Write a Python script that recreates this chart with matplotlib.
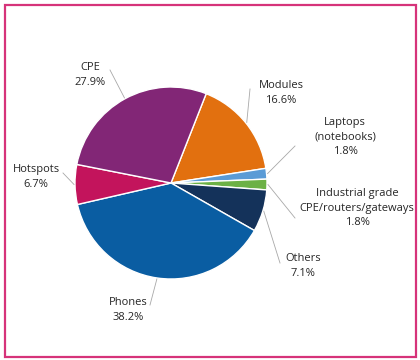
import numpy as np
import matplotlib.pyplot as plt
from matplotlib.patches import Rectangle

plt.rcParams['font.family'] = ['Open Sans', 'DejaVu Sans']

# slices, clockwise from the CPE/Modules boundary
LABELS = ['Modules', 'Laptops\n(notebooks)', 'Industrial grade\nCPE/routers/gateways',
          'Others', 'Phones', 'Hotspots', 'CPE']
SHARES = [16.6, 1.8, 1.8, 7.1, 38.2, 6.7, 27.9]
COLORS = ['#E2700F', '#5A9BD6', '#6CB146', '#14325A', '#0A5DA2', '#C3145C', '#822676']

# label anchor (pixel coords, y from top) and where the leader meets the text
TEXT_POS = [(281, 93), (345, 137), (357, 208), (303, 266), (128, 310), (36, 177), (90, 75)]
LEAD_END = [(250, 89), (295, 146), (295, 218), (280, 263), (150, 305), (63, 173), (110, 70)]

W, H = 420, 360
CX, CY, R = 171, 183, 96


def main():
    fig = plt.figure(figsize=(W / 100, H / 100), dpi=100)
    ax = fig.add_axes([0, 0, 1, 1])
    ax.set_xlim(0, W)
    ax.set_ylim(0, H)
    ax.set_aspect('equal')
    ax.axis('off')

    wedges, _ = ax.pie(SHARES, colors=COLORS, startangle=68.5, counterclock=False,
                       center=(CX, H - CY), radius=R,
                       wedgeprops={'edgecolor': 'white', 'linewidth': 1.0})
    ax.set_xlim(0, W)
    ax.set_ylim(0, H)

    for w, lab, share, tp, le in zip(wedges, LABELS, SHARES, TEXT_POS, LEAD_END):
        ang = np.deg2rad((w.theta1 + w.theta2) / 2)
        sx = CX + (R + 1) * np.cos(ang)
        sy = (H - CY) + (R + 1) * np.sin(ang)
        ax.plot([sx, le[0]], [sy, H - le[1]], color='#a8a8a8', linewidth=0.6)
        ax.text(tp[0], H - tp[1], '%s\n%.1f%%' % (lab, share), ha='center', va='center',
                fontsize=8, color='#262626', linespacing=1.45)

    # pink frame
    ax.add_patch(Rectangle((5, 3), 411, 352, fill=False, edgecolor='#D6337A', linewidth=1.6))

    plt.savefig('out.png', dpi=100)


if __name__ == '__main__':
    main()
